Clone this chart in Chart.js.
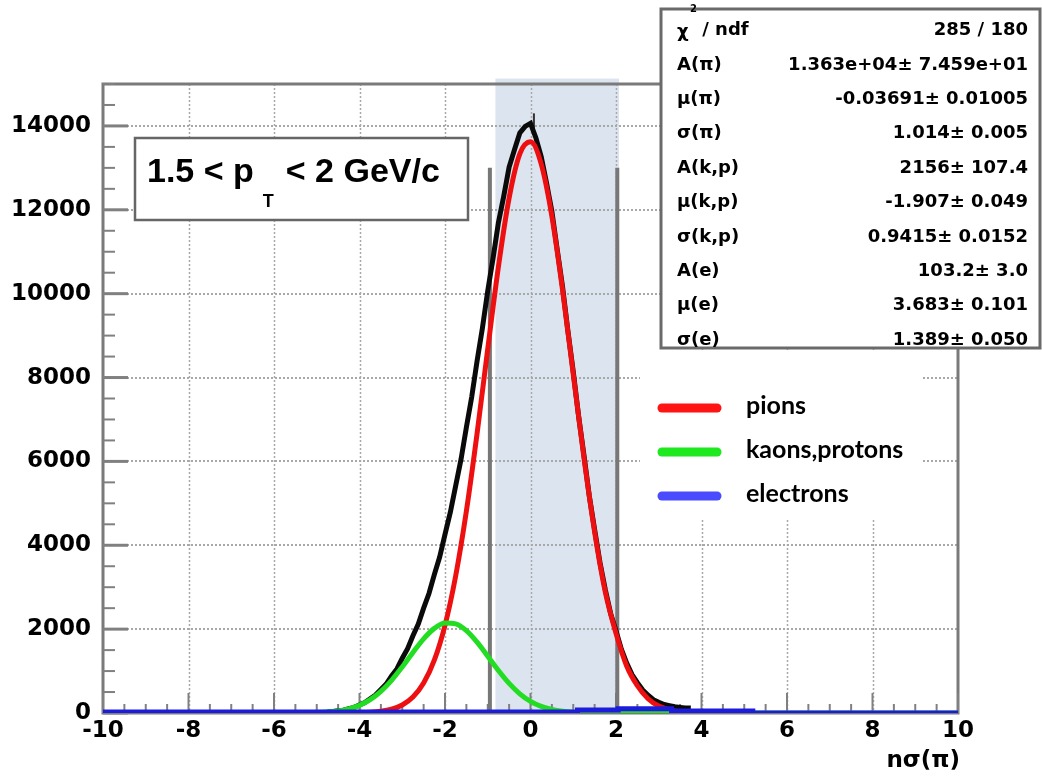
<!DOCTYPE html>
<html><head><meta charset="utf-8">
<script src="https://cdn.jsdelivr.net/npm/chart.js@4.4.1/dist/chart.umd.min.js"></script>
<style>html,body{margin:0;padding:0;background:#fff;overflow:hidden}#wrap{position:relative;width:1042px;height:776px}</style>
</head><body><div id="wrap"><canvas id="c" width="1042" height="776"></canvas></div>
<script>
// ---------- data ----------
const xTickValues = [-10, -8, -6, -4, -2, 0, 2, 4, 6, 8, 10];
const yTickValues = [0, 2000, 4000, 6000, 8000, 10000, 12000, 14000];
const xTitle = 'nσ(π)';
const ptLabel = ['1.5 < p', 'T', '< 2 GeV/c'];
const legendNames = ['pions', 'kaons,protons', 'electrons'];
const statNames = ['χ', 'A(π)', 'μ(π)', 'σ(π)', 'A(k,p)', 'μ(k,p)', 'σ(k,p)', 'A(e)', 'μ(e)', 'σ(e)'];
const statValues = ['285 / 180', '1.363e+04± 7.459e+01', '-0.03691± 0.01005', '1.014± 0.005', '2156± 107.4',
  '-1.907± 0.049', '0.9415± 0.0152', '103.2± 3.0', '3.683± 0.101', '1.389± 0.050'];
const cutLines = [-0.95, 2.03];
const cutTop = 13000;
const bandRange = [-0.82, 2.07];

const pionX = [-4.5, -4.25, -4, -3.75, -3.5, -3.25, -3, -2.75, -2.5, -2.25, -2, -1.75, -1.5, -1.25, -1, -0.75, -0.5, -0.25,
  0, 0.25, 0.5, 0.75, 1, 1.25, 1.5, 1.75, 2, 2.25, 2.5, 2.75, 3, 3.25, 3.5, 3.75, 4, 4.25, 4.5];
const pionY = [1, 2, 7, 17, 40, 90, 191, 380, 713, 1259, 2092, 3271, 4814, 6664, 8682, 10645, 12281, 13333,
  13621, 13095, 11847, 10086, 8080, 6091, 4321, 2884, 1900, 1120, 650, 340, 165, 75, 32, 13, 5, 2, 1];

const kpX = [-10, -5.5, -5.25, -5, -4.75, -4.5, -4.25, -4, -3.75, -3.5, -3.25, -3, -2.75, -2.5, -2.25, -2, -1.75, -1.5,
  -1.25, -1, -0.75, -0.5, -0.25, 0, 0.25, 0.5, 0.75, 1, 1.25, 1.5, 1.75, 2, 10];
const kpY = [0, 2, 4, 10, 23, 49, 97, 182, 317, 515, 779, 1099, 1444, 1768, 2018, 2145, 2126, 1964,
  1690, 1356, 1013, 706, 458, 277, 156, 82, 40, 18, 8, 3, 1, 0, 0];

const elecX = [-10, 1.1, 2.05, 3.3, 5.2, 6.2, 10];
const elecY = [0, 25, 70, 100, 45, 0, 0];

const dataX = [-4.75, -4.625, -4.5, -4.375, -4.25, -4.125, -4,
  -3.875, -3.75, -3.625, -3.5, -3.375, -3.25, -3.125, -3,
  -2.875, -2.75, -2.625, -2.5, -2.375, -2.25, -2.125, -2,
  -1.875, -1.75, -1.625, -1.5, -1.375, -1.25, -1.125, -1,
  -0.875, -0.75, -0.625, -0.5, -0.375, -0.25, -0.125, 0,
  0.125, 0.25, 0.375, 0.5, 0.625, 0.75, 0.875, 1,
  1.125, 1.25, 1.375, 1.5, 1.625, 1.75, 1.875, 2,
  2.125, 2.25, 2.375, 2.5, 2.625, 2.75, 2.875, 3,
  3.125, 3.25, 3.375, 3.5, 3.625, 3.75];
const dataY = [25, 36, 52, 68, 101, 134, 193,
  249, 340, 428, 561, 690, 881, 1050, 1305,
  1532, 1840, 2122, 2500, 2850, 3300, 3720, 4260,
  4790, 5420, 6050, 6810, 7540, 8390, 9180, 10070,
  10850, 11700, 12330, 13020, 13430, 13830, 13990, 14060,
  13720, 13270, 12640, 11960, 11050, 10160, 9110, 8140,
  7080, 6150, 5180, 4370, 3590, 2940, 2370, 1960,
  1520, 1190, 915, 725, 550, 425, 318, 258,
  203, 175, 148, 134, 120, 117];
const peakErrX = [0.08, 0.08];
const peakErrY = [13900, 14300];

// ---------- helpers ----------
const pts = (xs, ys) => xs.map((x, i) => ({x: x, y: ys[i]}));
const TICKFONT = {family: 'DejaVu Sans', size: 23, weight: 'bold'};

const deco = {
  id: 'deco',
  beforeDraw(chart) {
    const {ctx, chartArea: a, scales: {x, y}} = chart;
    ctx.save();
    ctx.fillStyle = '#fff';
    ctx.fillRect(0, 0, chart.width, chart.height);
    const bl = x.getPixelForValue(bandRange[0]), br = x.getPixelForValue(bandRange[1]);
    const bt = y.getPixelForValue(15130);
    ctx.fillStyle = 'rgb(220,228,239)';
    ctx.fillRect(bl, bt, br - bl, a.bottom - bt);
    ctx.restore();
  },
  beforeDatasetsDraw(chart) {
    const {ctx, chartArea: a, scales: {x, y}} = chart;
    ctx.save();
    // dotted grid
    ctx.setLineDash([2, 2]);
    ctx.strokeStyle = '#a8a8a8';
    ctx.lineWidth = 1.5;
    xTickValues.slice(1, -1).forEach(v => {
      const px = Math.round(x.getPixelForValue(v)) + 0.5;
      ctx.beginPath(); ctx.moveTo(px, a.top); ctx.lineTo(px, a.bottom); ctx.stroke();
    });
    ctx.lineWidth = 2;
    yTickValues.slice(1).forEach(v => {
      const py = Math.round(y.getPixelForValue(v));
      ctx.beginPath(); ctx.moveTo(a.left, py); ctx.lineTo(a.right, py); ctx.stroke();
    });
    ctx.setLineDash([]);
    // frame
    ctx.strokeStyle = '#7a7a7a';
    ctx.lineWidth = 3;
    ctx.strokeRect(a.left, a.top, a.right - a.left, a.bottom - a.top);
    // ticks inside
    ctx.strokeStyle = '#808080';
    for (let v = -10; v <= 10; v += 0.5) {
      const px = x.getPixelForValue(v);
      const major = Math.abs(v % 2) < 1e-9;
      ctx.lineWidth = 2;
      ctx.beginPath(); ctx.moveTo(px, a.bottom); ctx.lineTo(px, a.bottom - (major ? 20 : 9)); ctx.stroke();
    }
    for (let v = 0; v <= 15000; v += 500) {
      const py = y.getPixelForValue(v);
      const major = v % 2000 === 0;
      ctx.lineWidth = major ? 3 : 2;
      ctx.beginPath(); ctx.moveTo(a.left, py); ctx.lineTo(a.left + (major ? 25 : 12), py); ctx.stroke();
    }
    // cut lines
    ctx.strokeStyle = '#777';
    ctx.lineWidth = 4;
    cutLines.forEach(v => {
      const px = x.getPixelForValue(v);
      ctx.beginPath(); ctx.moveTo(px, y.getPixelForValue(cutTop)); ctx.lineTo(px, a.bottom); ctx.stroke();
    });
    ctx.restore();
  },
  afterDatasetsDraw(chart) {
    const {ctx, chartArea: a} = chart;
    ctx.save();
    // pT box
    ctx.fillStyle = '#fff';
    ctx.fillRect(135, 138, 333, 82);
    ctx.strokeStyle = '#666';
    ctx.lineWidth = 2.5;
    ctx.strokeRect(135, 138, 333, 82);
    ctx.fillStyle = '#000';
    ctx.textBaseline = 'alphabetic';
    ctx.font = 'bold 34px "Liberation Sans"';
    ctx.fillText(ptLabel[0], 147, 182);
    const w0 = ctx.measureText(ptLabel[0]).width;
    ctx.font = 'bold 18px "Liberation Sans"';
    ctx.fillText(ptLabel[1], 147 + w0 + 9, 207);
    const w1 = ctx.measureText(ptLabel[1]).width;
    ctx.font = 'bold 34px "Liberation Sans"';
    ctx.fillText(ptLabel[2], 147 + w0 + 9 + w1 + 12, 182);

    // stats box
    ctx.fillStyle = '#fff';
    ctx.fillRect(661, 9, 379, 339);
    ctx.strokeStyle = '#6a6a6a';
    ctx.lineWidth = 3;
    ctx.strokeRect(661, 9, 379, 339);
    ctx.fillStyle = '#000';
    ctx.textBaseline = 'middle';
    statNames.forEach((n, i) => {
      const cy = 30.5 + i * 34.4;
      ctx.font = 'bold 18px "DejaVu Sans"';
      ctx.textAlign = 'left';
      if (i === 0) {
        ctx.fillText(n, 677, cy + 2);
        ctx.font = 'bold 10px "DejaVu Sans"';
        ctx.fillText('2', 690, 9);
        ctx.font = 'bold 18px "DejaVu Sans"';
        ctx.fillText(' / ndf', 696, cy);
      } else {
        ctx.fillText(n, 677, cy);
      }
      ctx.textAlign = 'right';
      ctx.fillText(statValues[i], 1028, cy);
    });

    // legend
    ctx.fillStyle = '#fff';
    ctx.fillRect(640, 352, 283, 168);
    const lc = ['#ff1414', '#1ee81e', '#4a4aff'];
    const ly = [408, 452, 496];
    ctx.lineCap = 'round';
    ctx.lineWidth = 9;
    lc.forEach((c, i) => {
      ctx.strokeStyle = c;
      ctx.beginPath(); ctx.moveTo(662, ly[i]); ctx.lineTo(717, ly[i]); ctx.stroke();
    });
    ctx.fillStyle = '#000';
    ctx.textAlign = 'left';
    ctx.textBaseline = 'alphabetic';
    ctx.font = 'bold 25px Lato';
    legendNames.forEach((n, i) => ctx.fillText(n, 746, ly[i] + 6));

    // x axis title
    ctx.font = 'bold 23px "DejaVu Sans"';
    ctx.textAlign = 'right';
    ctx.textBaseline = 'middle';
    ctx.fillText(xTitle, 960, 761);
    ctx.restore();
  }
};

new Chart(document.getElementById('c'), {
  type: 'line',
  data: {
    datasets: [
      {label: 'electrons', data: pts(elecX, elecY), borderColor: '#1c1cdc', borderWidth: 5, stepped: 'after', pointRadius: 0, order: 0},
      {label: 'kaons,protons', data: pts(kpX, kpY), borderColor: '#22dd22', borderWidth: 5, cubicInterpolationMode: 'monotone', pointRadius: 0, order: 1},
      {label: 'pions', data: pts(pionX, pionY), borderColor: '#ee1010', borderWidth: 5, cubicInterpolationMode: 'monotone', pointRadius: 0, order: 2},
      {label: 'data', data: pts(dataX, dataY), borderColor: '#0a0a0a', borderWidth: 5, tension: 0, pointRadius: 0, order: 3},
      {label: 'err', data: pts(peakErrX, peakErrY), borderColor: '#333', borderWidth: 2, pointRadius: 0, order: 4}
    ]
  },
  options: {
    responsive: false,
    animation: false,
    devicePixelRatio: 1,
    layout: {padding: {top: 84, right: 84, left: 0, bottom: 0}},
    plugins: {legend: {display: false}, tooltip: {enabled: false}},
    elements: {line: {fill: false}},
    scales: {
      x: {
        type: 'linear', min: -10, max: 10,
        afterBuildTicks: s => { s.ticks = xTickValues.map(v => ({value: v})); },
        afterFit: s => { s.height = 63; },
        grid: {display: false, drawTicks: false},
        border: {display: false},
        ticks: {font: TICKFONT, color: '#000', padding: 4, maxRotation: 0, autoSkip: false, callback: v => String(v)}
      },
      y: {
        type: 'linear', min: 0, max: 15000,
        afterBuildTicks: s => { s.ticks = yTickValues.map(v => ({value: v})); },
        afterFit: s => { s.width = 103; },
        grid: {display: false, drawTicks: false},
        border: {display: false},
        ticks: {font: TICKFONT, color: '#000', padding: 12, callback: v => String(v)}
      }
    }
  },
  plugins: [deco]
});
</script>
</body></html>
